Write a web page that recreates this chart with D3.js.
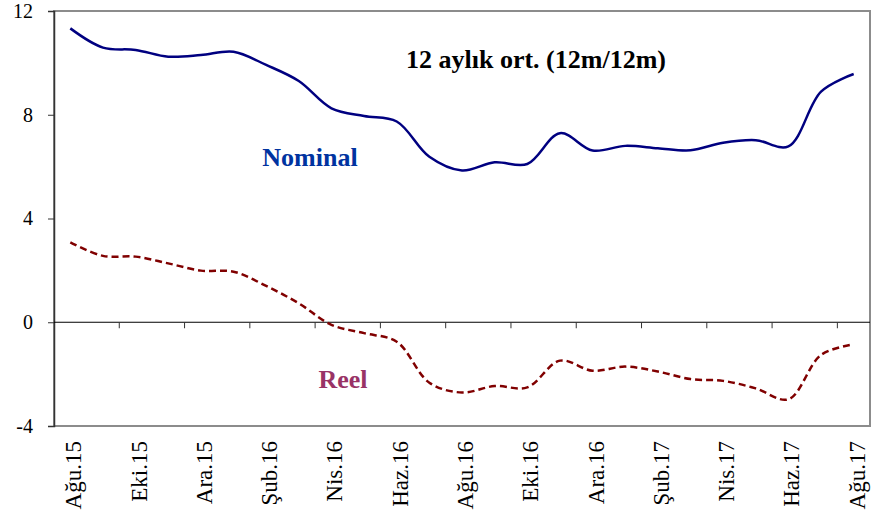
<!DOCTYPE html>
<html>
<head>
<meta charset="utf-8">
<script src="https://cdn.jsdelivr.net/npm/d3@7"></script>
<style>
  body { margin: 0; background: #fff; }
  svg { display: block; }
  svg text { font-family: "Liberation Serif", "Times New Roman", serif; }
</style>
</head>
<body>
<svg id="chart" width="875" height="512"></svg>
<script>
// Month labels (Aug 2015 - Aug 2017)
const months = ["Ağu.15", "Eyl.15", "Eki.15", "Kas.15", "Ara.15", "Oca.16", "Şub.16", "Mar.16",
                "Nis.16", "May.16", "Haz.16", "Tem.16", "Ağu.16", "Eyl.16", "Eki.16", "Kas.16",
                "Ara.16", "Oca.17", "Şub.17", "Mar.17", "Nis.17", "May.17", "Haz.17", "Tem.17", "Ağu.17"];
const nominal = [11.33, 10.59, 10.5, 10.24, 10.3, 10.43, 9.92, 9.3, 8.25, 7.95, 7.74, 6.38, 5.85,
                 6.17, 6.1, 7.29, 6.62, 6.8, 6.71, 6.63, 6.92, 7.02, 6.78, 8.89, 9.57];
const reel = [3.08, 2.56, 2.53, 2.27, 1.99, 1.95, 1.4, 0.73, -0.1, -0.42, -0.75, -2.33, -2.71,
              -2.46, -2.51, -1.48, -1.87, -1.71, -1.9, -2.19, -2.26, -2.55, -2.97, -1.26, -0.85];
const yTicks = [-4, 0, 4, 8, 12];

const svg = d3.select("#chart");
const plot = { left: 54, right: 870, top: 11, bottom: 426 };

const x = d3.scaleBand().domain(months).range([plot.left, plot.right]);
const y = d3.scaleLinear().domain([-4, 12]).range([plot.bottom, plot.top]);
const cx = d => x(d) + x.bandwidth() / 2;

// plot frame
svg.append("rect")
    .attr("x", plot.left).attr("y", plot.top)
    .attr("width", plot.right - plot.left).attr("height", plot.bottom - plot.top)
    .attr("fill", "none").attr("stroke", "#8c8c8c").attr("stroke-width", 2);

// left axis (plain hyphen for negatives, like the original)
const yAxis = svg.append("g")
    .attr("transform", `translate(${plot.left},0)`)
    .call(d3.axisLeft(y).tickValues(yTicks).tickSize(6).tickPadding(15).tickFormat(d => String(d)));
yAxis.select(".domain").attr("stroke", "#333").attr("stroke-width", 1.5);
yAxis.selectAll(".tick line").attr("stroke", "#333");
yAxis.selectAll("text")
    .attr("font-size", 20)
    .attr("fill", "#000");

// zero line with category ticks every second month boundary
svg.append("line")
    .attr("x1", plot.left).attr("x2", plot.right)
    .attr("y1", y(0)).attr("y2", y(0))
    .attr("stroke", "#000").attr("stroke-width", 1.2);
const boundaries = months.filter((m, i) => i > 0 && i % 2 === 0);
svg.append("g").selectAll("line")
    .data(boundaries).enter().append("line")
    .attr("x1", d => x(d)).attr("x2", d => x(d))
    .attr("y1", y(0)).attr("y2", y(0) + 6)
    .attr("stroke", "#333").attr("stroke-width", 1);

// x labels (rotated), every other month
svg.append("g").selectAll("text")
    .data(months.filter((m, i) => i % 2 === 0)).enter().append("text")
    .attr("transform", d => `translate(${cx(d) + 11},${plot.bottom + 15}) rotate(-90)`)
    .attr("text-anchor", "end")
    .attr("font-size", 23)
    .attr("fill", "#000")
    .text(d => d);

// lines
const line = d3.line()
    .x((d, i) => cx(months[i]))
    .y(d => y(d))
    .curve(d3.curveCatmullRom.alpha(0.5));

svg.append("path")
    .datum(nominal)
    .attr("d", line)
    .attr("fill", "none")
    .attr("stroke", "#000080")
    .attr("stroke-width", 2.5);

svg.append("path")
    .datum(reel)
    .attr("d", line)
    .attr("fill", "none")
    .attr("stroke", "#800000")
    .attr("stroke-width", 2.5)
    .attr("stroke-dasharray", "7,4");

// annotations
svg.append("text").attr("x", 536).attr("y", 68).attr("text-anchor", "middle")
    .attr("font-size", 26).attr("font-weight", "bold").attr("fill", "#000")
    .text("12 aylık ort. (12m/12m)");
svg.append("text").attr("x", 310).attr("y", 166).attr("text-anchor", "middle")
    .attr("font-size", 26).attr("font-weight", "bold").attr("fill", "#0033a0")
    .text("Nominal");
svg.append("text").attr("x", 343).attr("y", 388).attr("text-anchor", "middle")
    .attr("font-size", 26).attr("font-weight", "bold").attr("fill", "#993366")
    .text("Reel");
</script>
</body>
</html>
